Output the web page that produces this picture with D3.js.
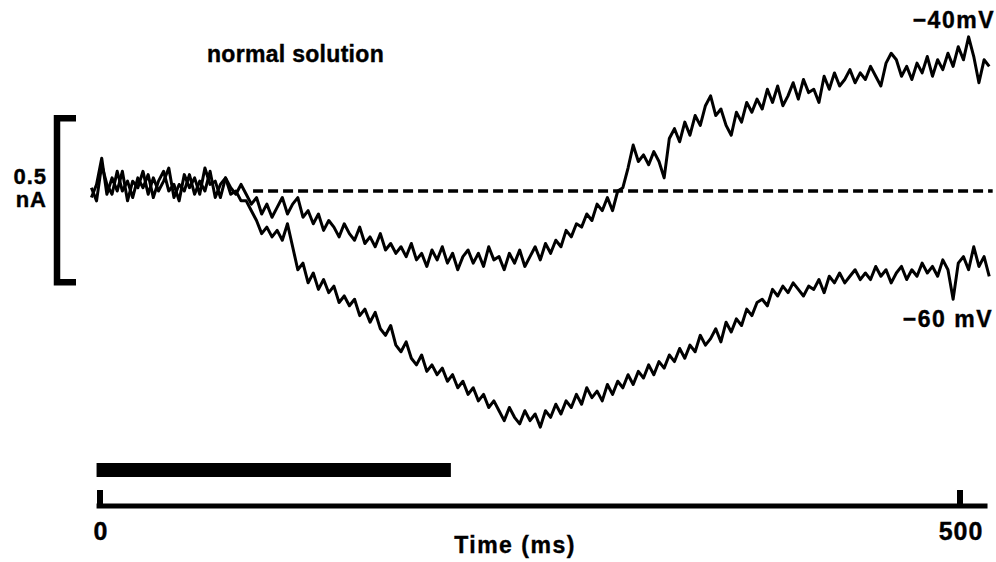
<!DOCTYPE html>
<html>
<head>
<meta charset="utf-8">
<script src="https://cdn.jsdelivr.net/npm/d3@7"></script>
<style>
  html, body { margin: 0; padding: 0; background: #fff; }
  svg { display: block; }
  text { font-family: "Liberation Sans", Arial, Helvetica, sans-serif; font-weight: bold; fill: #000; stroke: #000; stroke-width: 0.4px; }
</style>
</head>
<body>
<svg id="chart" width="996" height="562"></svg>
<script>
// Membrane current recorded at two holding potentials (pA), sampled every 3 ms from -5 ms
const timeStartMs = -5;
const sampleMs = 3;

const traceMinus40 = [
  10, -30, 80, 20, -10, 60, 0, 30, -20, 40,
  10, 50, -20, 30, 60, 0, 20, -30, 50, 10,
  40, -10, 70, 20, 30, -20, 40, 10, -10, 20,
  -10, -40, -20, -70, -40, -80, -50, -20, -70, -40,
  -20, -80, -60, -100, -70, -120, -90, -110, -140, -100,
  -130, -150, -110, -160, -140, -170, -130, -180, -160, -190,
  -170, -200, -160, -210, -190, -230, -180, -210, -170, -220,
  -190, -240, -200, -180, -220, -190, -230, -170, -210, -200,
  -240, -190, -220, -180, -230, -200, -170, -210, -160, -190,
  -150, -170, -120, -140, -100, -110, -70, -90, -40, -60,
  -20, -60, 0, 10, 70, 140, 90, 110, 80, 120,
  90, 40, 160, 190, 150, 210, 170, 230, 200, 260,
  290, 230, 250, 200, 170, 240, 210, 270, 240, 280,
  250, 310, 270, 320, 260, 290, 330, 280, 340, 300,
  310, 270, 350, 310, 360, 320, 340, 370, 330, 360,
  340, 380, 350, 320, 390, 420, 400, 350, 380, 340,
  390, 360, 410, 350, 400, 370, 420, 380, 440, 400,
  470, 410, 330, 400, 380
];

const traceMinus60 = [
  -20, 20, 100, -10, 40, 0, 60, -30, 30, 10,
  60, -10, 40, 0, 30, 70, -20, 20, 0, 50,
  -10, 30, 0, 60, -20, 20, 40, -10, 0, -30,
  -30, -60, -90, -130, -110, -140, -120, -150, -100, -170,
  -240, -220, -280, -250, -300, -270, -310, -290, -340, -320,
  -350, -330, -380, -360, -400, -370, -420, -440, -410, -470,
  -490, -460, -510, -530, -500, -550, -530, -560, -540, -580,
  -560, -600, -580, -620, -600, -640, -620, -660, -640, -670,
  -700, -660, -690, -710, -670, -700, -680, -720, -670, -690,
  -650, -680, -640, -660, -620, -650, -600, -630, -610, -640,
  -590, -620, -580, -600, -560, -590, -550, -570, -530, -560,
  -520, -540, -500, -520, -480, -510, -470, -490, -440, -470,
  -450, -420, -460, -400, -430, -390, -410, -360, -380, -340,
  -330, -350, -300, -320, -290, -310, -280, -300, -320, -290,
  -300, -270, -310, -260, -280, -250, -280, -260, -240, -270,
  -250, -270, -230, -260, -240, -280, -250, -230, -270, -240,
  -260, -220, -250, -230, -260, -210, -240, -330, -220, -200,
  -240, -170, -230, -200, -260
];

// Zero-current reference line (ms span)
const baselineSpan = [89, 519];
// Stimulus marker (ms)
const stimulusSpan = [-2, 204];
// Time axis: ticks and extent (ms)
const timeTicks = [0, 500];
const timeAxisSpan = [-2, 516];
// Current calibration bar (pA)
const calibrationBar = [222, -278];
const calibrationLabel = ["0.5", "nA"];

const svg = d3.select("#chart");

const x = d3.scaleLinear().domain([0, 500]).range([100, 960]);
const y = d3.scaleLinear().domain([-800, 500]).range([453.4, 27]);

const toPoints = values => values.map((v, i) => [timeStartMs + i * sampleMs, v]);
const line = d3.line().x(d => x(d[0])).y(d => y(d[1]));

// zero-current dashed line
svg.append("line")
  .attr("x1", x(baselineSpan[0])).attr("x2", x(baselineSpan[1]))
  .attr("y1", y(0)).attr("y2", y(0))
  .attr("stroke", "#000").attr("stroke-width", 3.5)
  .attr("stroke-dasharray", "10,5");

// current traces
[traceMinus60, traceMinus40].forEach(values => {
  svg.append("path")
    .datum(toPoints(values))
    .attr("d", line)
    .attr("fill", "none")
    .attr("stroke", "#000")
    .attr("stroke-width", 3)
    .attr("stroke-linejoin", "round");
});

// calibration bracket
const bx = 57, bTick = 76;
svg.append("path")
  .attr("d", `M${bTick},${y(calibrationBar[0])}H${bx}V${y(calibrationBar[1])}H${bTick}`)
  .attr("fill", "none").attr("stroke", "#000").attr("stroke-width", 6.5)
  .attr("stroke-linejoin", "miter");

svg.append("text").attr("x", 47).attr("y", 184)
  .attr("text-anchor", "end")
  .style("font-size", "22px").style("letter-spacing", "1px")
  .text(calibrationLabel[0]);
svg.append("text").attr("x", 47).attr("y", 207)
  .attr("text-anchor", "end")
  .style("font-size", "22px").style("letter-spacing", "1px")
  .text(calibrationLabel[1]);

// stimulus bar
svg.append("line")
  .attr("x1", x(stimulusSpan[0])).attr("x2", x(stimulusSpan[1]))
  .attr("y1", 470).attr("y2", 470)
  .attr("stroke", "#000").attr("stroke-width", 14);

// time axis
const axisY = 506;
svg.append("line")
  .attr("x1", x(timeAxisSpan[0])).attr("x2", x(timeAxisSpan[1]))
  .attr("y1", axisY).attr("y2", axisY)
  .attr("stroke", "#000").attr("stroke-width", 5);

svg.selectAll(".tick").data(timeTicks).enter().append("line")
  .attr("x1", d => x(d)).attr("x2", d => x(d))
  .attr("y1", 490).attr("y2", axisY)
  .attr("stroke", "#000").attr("stroke-width", 6);

svg.selectAll(".tickLabel").data(timeTicks).enter().append("text")
  .attr("x", d => x(d) + 1).attr("y", 540)
  .attr("text-anchor", "middle")
  .style("font-size", "25px").style("letter-spacing", "1px")
  .text(d => d);

svg.append("text").attr("x", 515).attr("y", 553)
  .attr("text-anchor", "middle")
  .style("font-size", "23px").style("letter-spacing", "1.5px")
  .text("Time (ms)");

// annotations
svg.append("text").attr("x", 207).attr("y", 62)
  .style("font-size", "23px").style("letter-spacing", "0.3px")
  .text("normal solution");

svg.append("text").attr("x", 995).attr("y", 28)
  .attr("text-anchor", "end")
  .style("font-size", "23px").style("letter-spacing", "1.5px")
  .text("\u221240mV");

svg.append("text").attr("x", 993).attr("y", 327)
  .attr("text-anchor", "end")
  .style("font-size", "23px").style("letter-spacing", "1.5px")
  .text("\u221260 mV");
</script>
</body>
</html>
